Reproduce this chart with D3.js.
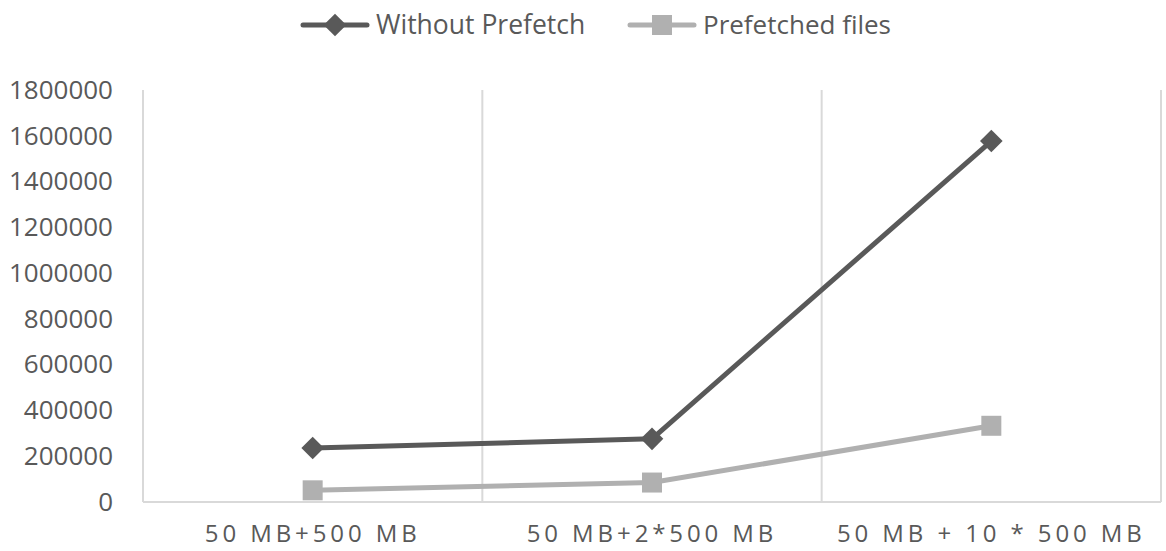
<!DOCTYPE html>
<html>
<head>
<meta charset="utf-8">
<script src="https://cdn.jsdelivr.net/npm/d3@7"></script>
<style>
  html, body { margin: 0; padding: 0; background: #fff; }
  svg { display: block; font-family: "Open Sans", "Noto Sans", sans-serif; }
</style>
</head>
<body>
<svg id="chart" width="1166" height="551"></svg>
<script>
// Categories and series
const categories = ["50 MB+500 MB", "50 MB+2*500 MB", "50 MB + 10 * 500 MB"];
const withoutPrefetch = [236000, 276000, 1577000];
const prefetchedFiles = [51000, 85000, 333000];
const yTicks = [0, 200000, 400000, 600000, 800000, 1000000, 1200000, 1400000, 1600000, 1800000];
const seriesNames = ["Without Prefetch", "Prefetched files"];

const svg = d3.select("#chart");
const margin = { left: 143, right: 5, top: 90, bottom: 49 };
const W = 1166, H = 551;
const x0 = margin.left, x1 = W - margin.right, y0 = H - margin.bottom, y1 = margin.top;

const xBand = d3.scaleBand().domain(categories).range([x0, x1]).paddingInner(0).paddingOuter(0);
const y = d3.scaleLinear().domain([0, 1800000]).range([y0, y1]);

const axisColor = "#d9d9d9";
const textColor = "#595959";

// Vertical category separators (left, between categories, right)
const sepX = [x0, ...categories.slice(1).map(c => xBand(c)), x1];
svg.append("g").selectAll("line").data(sepX).join("line")
  .attr("x1", d => d).attr("x2", d => d)
  .attr("y1", y1).attr("y2", y0)
  .attr("stroke", axisColor).attr("stroke-width", 2);

// Bottom axis line
svg.append("line")
  .attr("x1", x0).attr("x2", x1).attr("y1", y0).attr("y2", y0)
  .attr("stroke", axisColor).attr("stroke-width", 2);

// Y axis labels
const yAxis = d3.axisLeft(y).tickValues(yTicks).tickSize(0).tickPadding(30).tickFormat(d3.format("d"));
const gy = svg.append("g").attr("transform", `translate(${x0},0)`).call(yAxis);
gy.select(".domain").remove();
gy.selectAll("text")
  .attr("fill", textColor)
  .style("font-size", "26px")
  .style("font-family", "'Open Sans', sans-serif");

// X axis labels
const xAxis = d3.axisBottom(xBand).tickSize(0).tickPadding(23);
const gx = svg.append("g").attr("transform", `translate(0,${y0})`).call(xAxis);
gx.select(".domain").remove();
gx.selectAll("text")
  .attr("fill", textColor)
  .style("font-size", "24px")
  .style("letter-spacing", "3.9px")
  .style("font-family", "'Open Sans', sans-serif");

const cx = c => xBand(c) + xBand.bandwidth() / 2;

const series = [
  { name: seriesNames[0], values: withoutPrefetch, color: "#595959", marker: "diamond" },
  { name: seriesNames[1], values: prefetchedFiles, color: "#b0b0b0", marker: "square" }
];

const line = d3.line().x(d => cx(d.c)).y(d => y(d.v));

function drawMarker(g, kind, color) {
  if (kind === "diamond") {
    g.append("rect")
      .attr("x", -8).attr("y", -8).attr("width", 16).attr("height", 16)
      .attr("transform", "rotate(45)")
      .attr("fill", color);
  } else {
    g.append("rect")
      .attr("x", -10).attr("y", -10).attr("width", 20).attr("height", 20)
      .attr("fill", color);
  }
}

// Draw lighter series first so dark series sits on top
[series[1], series[0]].forEach(s => {
  const pts = categories.map((c, i) => ({ c, v: s.values[i] }));
  svg.append("path")
    .datum(pts)
    .attr("d", line)
    .attr("fill", "none")
    .attr("stroke", s.color)
    .attr("stroke-width", 5)
    .attr("stroke-linejoin", "round");
  pts.forEach(p => {
    const g = svg.append("g").attr("transform", `translate(${cx(p.c)},${y(p.v)})`);
    drawMarker(g, s.marker, s.color);
  });
});

// Legend
const legendItems = [
  { s: series[0], lx: 303, tx: 376, size: "26.5px" },
  { s: series[1], lx: 630, tx: 703, size: "26px" }
];
const ly = 25;
legendItems.forEach(({ s, lx, tx, size }) => {
  svg.append("line")
    .attr("x1", lx).attr("x2", lx + 64).attr("y1", ly).attr("y2", ly)
    .attr("stroke", s.color).attr("stroke-width", 5).attr("stroke-linecap", "round");
  const g = svg.append("g").attr("transform", `translate(${lx + 32},${ly})`);
  drawMarker(g, s.marker, s.color);
  svg.append("text")
    .attr("x", tx).attr("y", ly)
    .attr("dy", "0.35em")
    .attr("fill", textColor)
    .style("font-size", size)
    .text(s.name);
});
</script>
</body>
</html>
